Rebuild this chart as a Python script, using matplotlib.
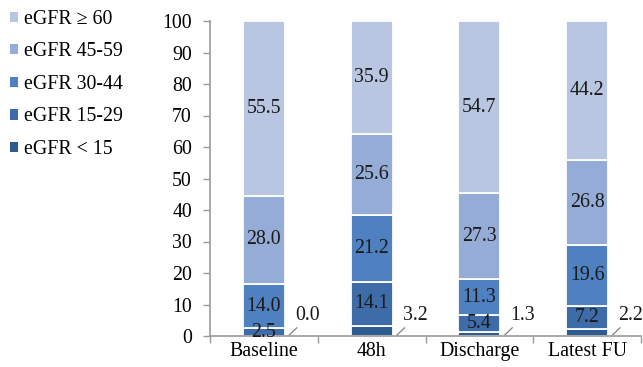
import matplotlib
matplotlib.use("Agg")
import matplotlib.pyplot as plt
from matplotlib.patches import Patch
import numpy as np

categories = ["Baseline", "48h", "Discharge", "Latest FU"]
series_names = ["eGFR < 15", "eGFR 15-29", "eGFR 30-44", "eGFR 45-59", "eGFR \u2265 60"]
lt15 = [0.0, 3.2, 1.3, 2.2]
e15_29 = [2.5, 14.1, 5.4, 7.2]
e30_44 = [14.0, 21.2, 11.3, 19.6]
e45_59 = [28.0, 25.6, 27.3, 26.8]
ge60 = [55.5, 35.9, 54.7, 44.2]
yticks = list(range(0, 101, 10))

series = [lt15, e15_29, e30_44, e45_59, ge60]
colors = ["#2e5b90", "#3e6ca8", "#4f81c0", "#95acd6", "#b9c6e1"]

plt.rcParams['font.family'] = ['Liberation Serif', 'DejaVu Serif']
FS = 14.3

fig = plt.figure(figsize=(6.43, 3.67), dpi=100)
ax = fig.add_axes([210/643, (367-336)/367, (641-210)/643, (336-21)/367])

x = np.arange(len(categories))
w = 0.39
bottom = np.zeros(len(categories))
for vals, col in zip(series, colors):
    ax.bar(x, vals, w, bottom=bottom, color=col, edgecolor="white", linewidth=1.3)
    bottom += np.array(vals)

# labels
bottom = np.zeros(len(categories))
for si, vals in enumerate(series):
    for i, v in enumerate(vals):
        if si == 0:
            xr = x[i] + w / 2
            ax.plot([xr + 0.04, xr + 0.11], [0.3, 2.6], color="#808080", lw=0.9, clip_on=False)
            ax.text(xr + 0.21, 6.6, f"{v:.1f}", ha="center", va="center", fontsize=FS, color="#1a1a1a")
        else:
            ax.text(x[i], bottom[i] + v / 2, f"{v:.1f}", ha="center", va="center", fontsize=FS, color="#1a1a1a")
    bottom += np.array(vals)

ax.set_xlim(-0.5, len(categories) - 0.5)
ax.set_ylim(0, 100)
ax.set_yticks(yticks)
ax.set_xticks(x)
ax.set_xticklabels(categories, fontsize=FS)
ax.set_xticks(np.arange(-0.5, len(categories), 1.0), minor=True)
ax.tick_params(axis="x", which="major", length=0, pad=4)
ax.tick_params(axis="x", which="minor", length=5, color="#9a9a9a", width=1)
ax.tick_params(axis="y", length=5, color="#9a9a9a", width=1, labelsize=FS, pad=8)
for s in ["top", "right"]:
    ax.spines[s].set_visible(False)
for s in ["left", "bottom"]:
    ax.spines[s].set_color("#9a9a9a")
    ax.spines[s].set_linewidth(1.2)

handles = [Patch(facecolor=c, edgecolor="none") for c in colors][::-1]
labels = series_names[::-1]
fig.legend(handles, labels, loc="upper left", bbox_to_anchor=(0.0, 1.0), frameon=False,
           fontsize=FS, handlelength=0.42, handleheight=0.42, handletextpad=0.28,
           labelspacing=0.68, borderaxespad=0.1)

fig.savefig("out.png", dpi=100)
